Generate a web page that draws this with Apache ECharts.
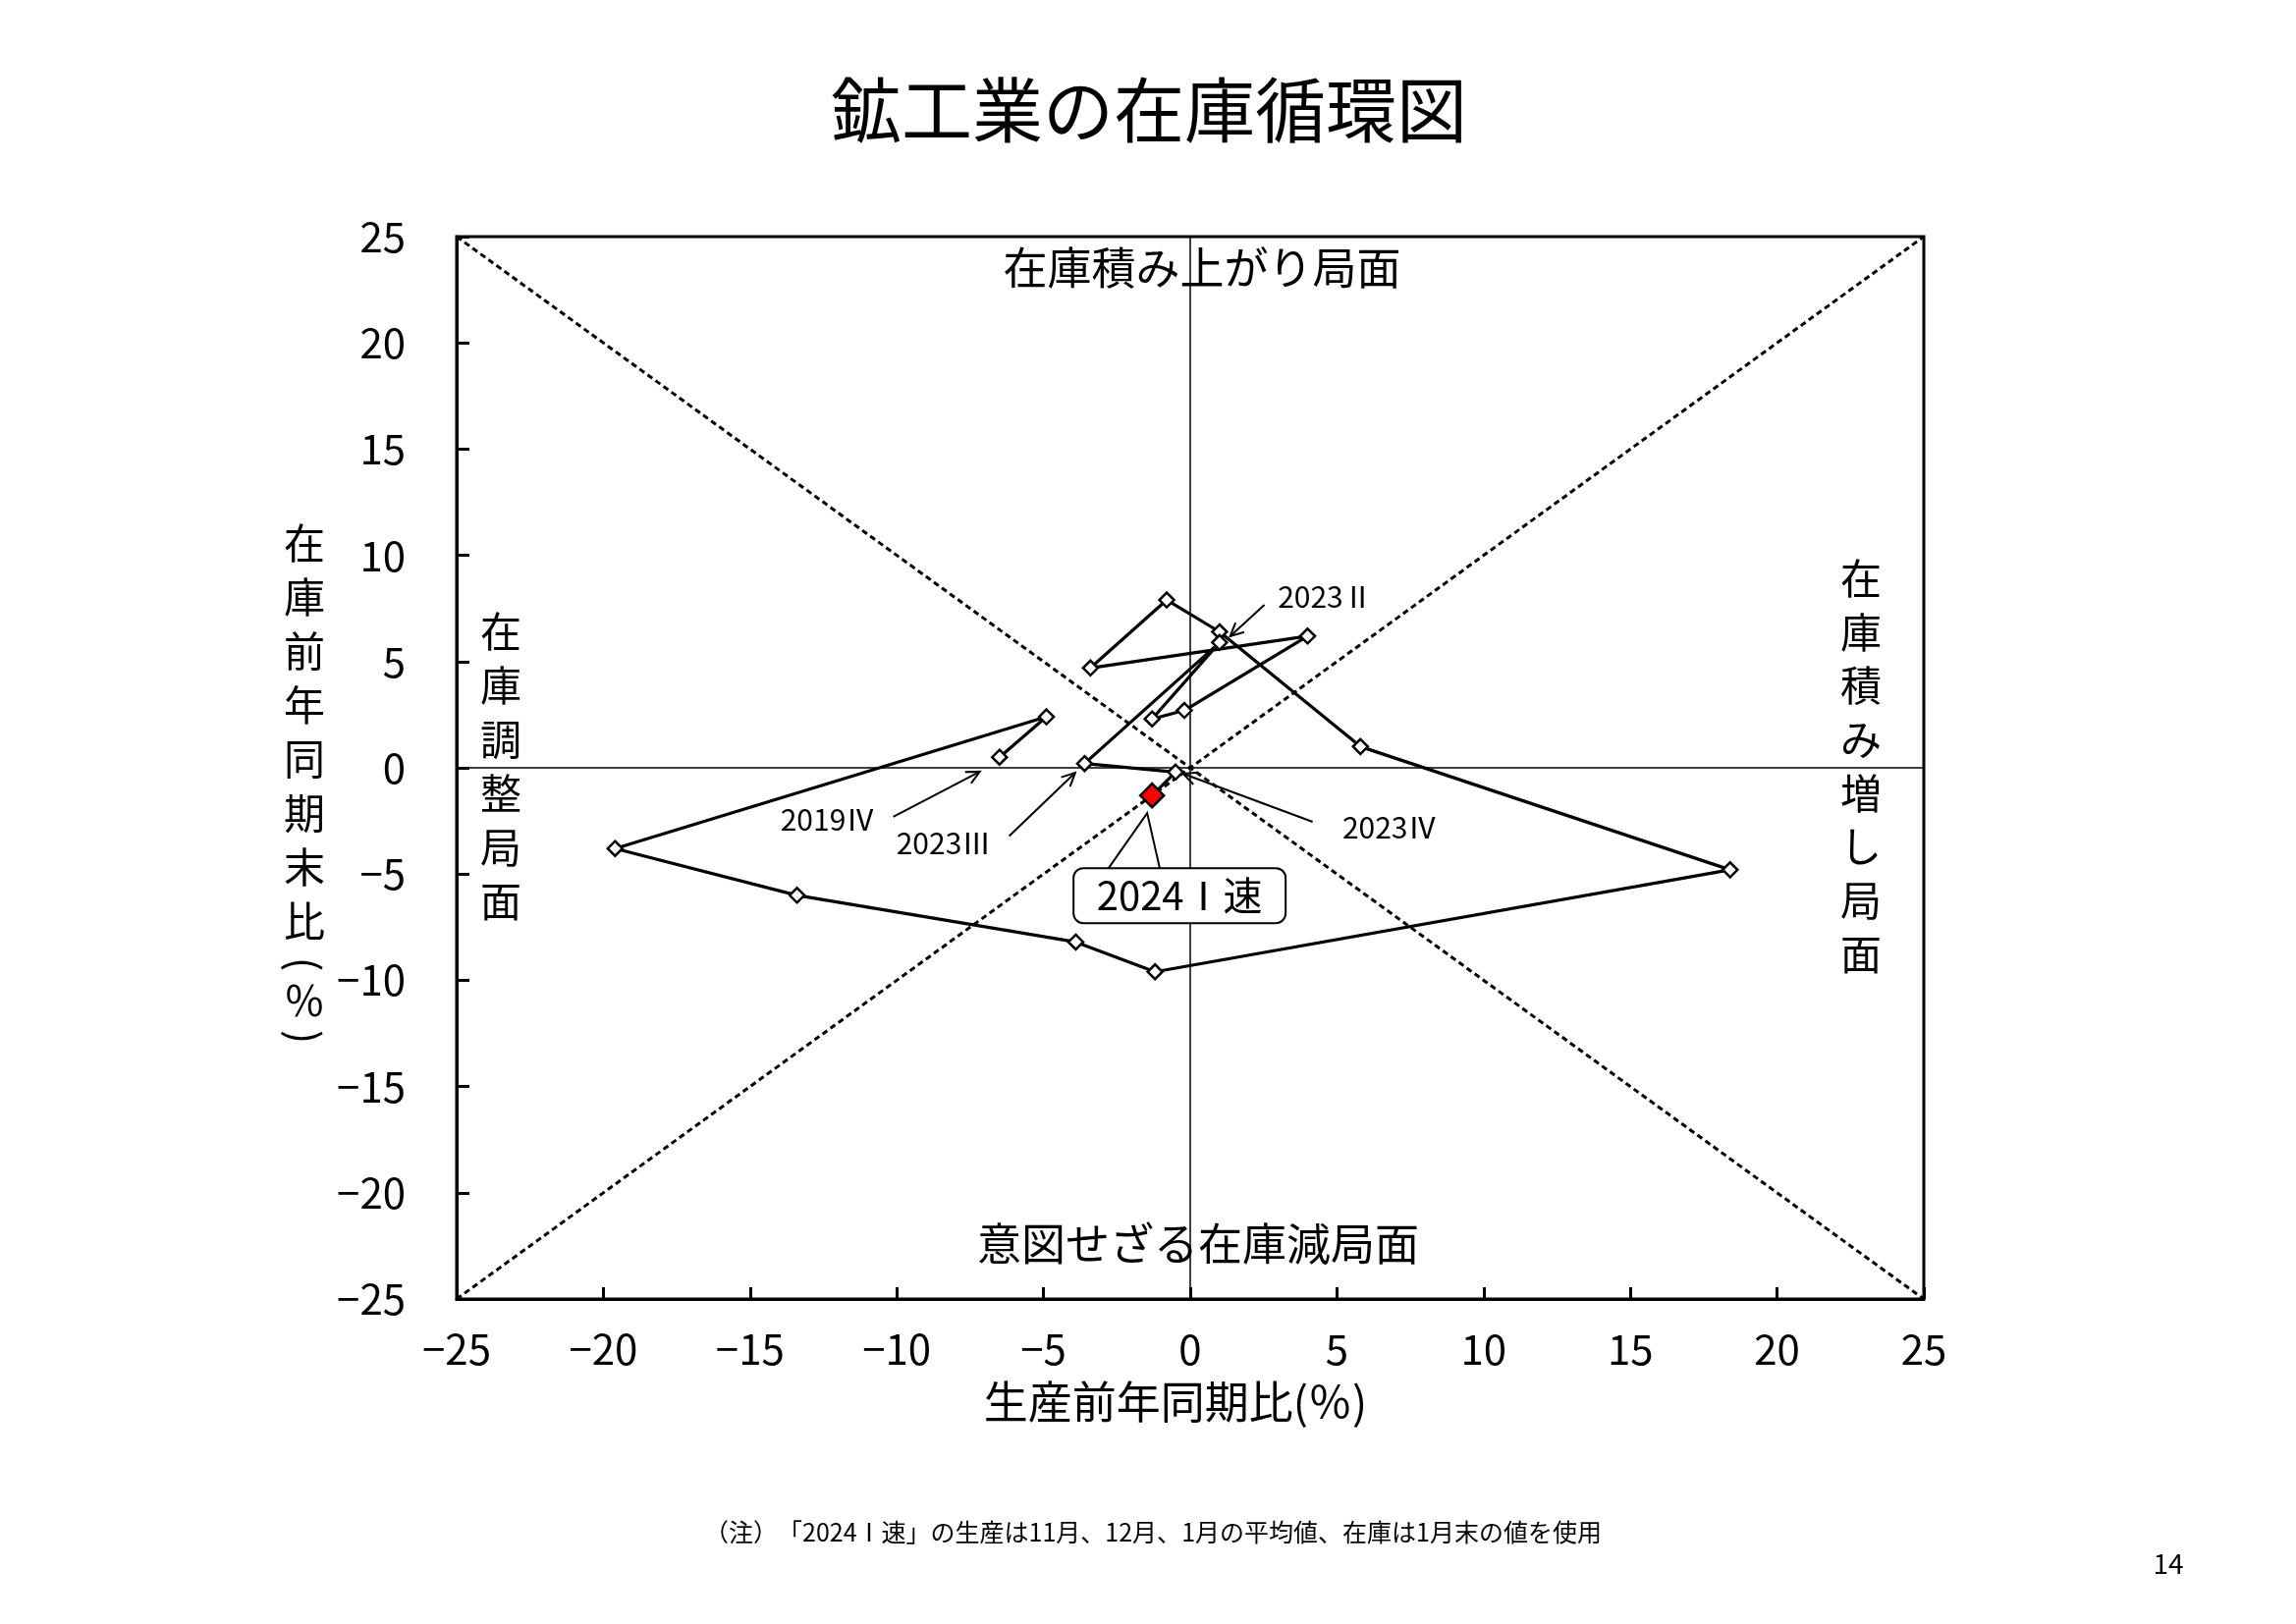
<!DOCTYPE html>
<html>
<head>
<meta charset="utf-8">
<script src="https://cdn.jsdelivr.net/npm/echarts@6/dist/echarts.min.js"></script>
<style>
html,body{margin:0;padding:0;background:#fff;}
#chart{width:2338px;height:1654px;}
</style>
</head>
<body>
<div id="chart"></div>
<script>
// ---- data ----
var quarters = ['2019Ⅳ','2020Ⅰ','2020Ⅱ','2020Ⅲ','2020Ⅳ','2021Ⅰ','2021Ⅱ','2021Ⅲ','2021Ⅳ',
                '2022Ⅰ','2022Ⅱ','2022Ⅲ','2022Ⅳ','2023Ⅰ','2023Ⅱ','2023Ⅲ','2023Ⅳ','2024Ⅰ速'];
var production = [-6.5, -4.9, -19.6, -13.4, -3.9, -1.2, 18.4, 5.8, 1.0,
                  -0.8, -3.4, 4.0, -0.2, -1.3, 1.0, -3.6, -0.5, -1.3];
var inventory  = [0.5, 2.4, -3.8, -6.0, -8.2, -9.6, -4.8, 1.0, 6.4,
                  7.9, 4.7, 6.2, 2.7, 2.3, 5.9, 0.2, -0.2, -1.3];
var axisTicks = [-25, -20, -15, -10, -5, 0, 5, 10, 15, 20, 25];

// annotation labels (data coordinates): label text, label pos, arrow start, arrow tip
var labelNames = ['2019Ⅳ', '2023Ⅲ', '2023Ⅱ', '2023Ⅳ'];
var labelPos   = [[-12.35, -2.45], [-8.4, -3.56], [4.6, 8.04], [6.8, -2.82]];
var arrowFrom  = [[-10.12, -2.31], [-6.17, -3.21], [2.53, 7.67], [4.17, -2.54]];
var arrowTo    = [[-7.17, -0.18], [-3.92, -0.23], [1.36, 6.19], [-0.24, -0.28]];

var FONT = '"Noto Sans CJK JP", "Noto Sans", sans-serif';
var chart = echarts.init(document.getElementById('chart'), null, {renderer: 'canvas'});

var pts = production.map(function (x, i) {
  var item = {name: quarters[i], value: [x, inventory[i]]};
  if (i === production.length - 1) {
    item.symbolSize = 24;
    item.itemStyle = {color: '#ff0000', borderColor: '#000', borderWidth: 2.5};
  }
  return item;
});
var mn = axisTicks[0], mx = axisTicks[axisTicks.length - 1];

function minus(v) { return String(v).replace('-', '−'); }

var option = {
  backgroundColor: '#fff',
  animation: false,
  grid: {left: 465, top: 241, width: 1494, height: 1082, show: true,
         borderColor: '#000', borderWidth: 3, backgroundColor: 'transparent',
         outerBoundsMode: 'none', containLabel: false},
  xAxis: {type: 'value', min: mn, max: mx, interval: 5,
    axisLine: {show: true, onZero: false, lineStyle: {color: '#000', width: 3}},
    axisTick: {show: true, inside: true, length: 12, lineStyle: {color: '#000', width: 3}},
    axisLabel: {color: '#000', fontSize: 42, fontFamily: FONT, margin: 30, formatter: minus},
    splitLine: {show: false}},
  yAxis: {type: 'value', min: mn, max: mx, interval: 5,
    axisLine: {show: true, onZero: false, lineStyle: {color: '#000', width: 3}},
    axisTick: {show: true, inside: true, length: 13, lineStyle: {color: '#000', width: 3}},
    axisLabel: {color: '#000', fontSize: 42, fontFamily: FONT, margin: 52, formatter: minus},
    splitLine: {show: false}},
  series: [
    {type: 'line', data: [[mn, mx], [mx, mn]], symbol: 'none', silent: true, z: 1,
     lineStyle: {color: '#000', width: 3, type: [6, 4]},
     markLine: {silent: true, symbol: 'none', label: {show: false},
       lineStyle: {color: '#000', width: 1.5, type: 'solid'},
       data: [{xAxis: 0}, {yAxis: 0}]}},
    {type: 'line', data: [[mn, mn], [mx, mx]], symbol: 'none', silent: true, z: 1,
     lineStyle: {color: '#000', width: 3, type: [6, 4]}},
    {type: 'line', data: pts, symbol: 'diamond', symbolSize: 15, showAllSymbol: true, z: 5,
     lineStyle: {color: '#000', width: 3.2},
     itemStyle: {color: '#fff', borderColor: '#000', borderWidth: 2.5}}
  ]
};
chart.setOption(option);

function px(p) { return chart.convertToPixel({gridIndex: 0}, p); }
function txt(text, x, y, size, extra) {
  var s = {text: text, x: x, y: y, font: size + 'px ' + FONT, fill: '#000',
           textAlign: 'center', textVerticalAlign: 'middle', align: 'center', verticalAlign: 'middle'};
  if (extra) for (var k in extra) s[k] = extra[k];
  return {type: 'text', silent: true, z: 100, style: s};
}
function rtxt(text, x, y, size, rot) {
  var el = txt(text, 0, 0, size);
  el.x = x; el.y = y; el.rotation = rot;
  return el;
}
function vtext(chars, x, y0, step, size) {
  var out = [];
  for (var i = 0; i < chars.length; i++) out.push(txt(chars[i], x, y0 + i * step, size));
  return out;
}
function arrow(a, b) {
  var dx = b[0] - a[0], dy = b[1] - a[1], L = Math.sqrt(dx * dx + dy * dy);
  var ux = dx / L, uy = dy / L, h = 15, w = 0.45;
  var p1 = [b[0] - h * (ux * Math.cos(w) - uy * Math.sin(w)), b[1] - h * (uy * Math.cos(w) + ux * Math.sin(w))];
  var p2 = [b[0] - h * (ux * Math.cos(-w) - uy * Math.sin(-w)), b[1] - h * (uy * Math.cos(-w) + ux * Math.sin(-w))];
  return [
    {type: 'polyline', silent: true, z: 90, shape: {points: [a, b]}, style: {stroke: '#000', lineWidth: 2, fill: null}},
    {type: 'polyline', silent: true, z: 90, shape: {points: [p1, b, p2]}, style: {stroke: '#000', lineWidth: 2, fill: null}}
  ];
}

var g = [];
// title
g.push(txt('鉱工業の在庫循環図', 1170, 112, 72));
// axis names
g = g.concat(vtext(['在','庫','前','年','同','期','末','比'], 310, 553, 55, 42));
g.push(rtxt('(', 310, 982, 42, -Math.PI / 2));
g.push(txt('％', 310, 1019, 42));
g.push(rtxt(')', 310, 1056, 42, -Math.PI / 2));
g.push(txt('生産前年同期比(％)', 1197, 1428, 45));
// quadrant labels
g.push(txt('在庫積み上がり局面', 1224, 273, 45));
g.push(txt('意図せざる在庫減局面', 1220, 1267, 45));
g = g.concat(vtext(['在','庫','調','整','局','面'], 510, 643, 55, 42));
g = g.concat(vtext(['在','庫','積','み','増','し','局','面'], 1895, 589, 54.7, 42));
// point labels with arrows
for (var i = 0; i < labelNames.length; i++) {
  var lp = px(labelPos[i]);
  g.push(txt(labelNames[i], lp[0], lp[1], 30));
  g = g.concat(arrow(px(arrowFrom[i]), px(arrowTo[i])));
}
// callout for latest point
var last = px([production[production.length - 1], inventory[inventory.length - 1]]);
g.push({type: 'polyline', silent: true, z: 90,
  shape: {points: [[last[0] - 45, last[1] + 75], [last[0] - 5, last[1] + 18], [last[0] + 8, last[1] + 75]]},
  style: {stroke: '#000', lineWidth: 2, fill: null}});
g.push({type: 'rect', silent: true, z: 95,
  shape: {x: last[0] - 80, y: last[1] + 74, width: 216, height: 56, r: 10},
  style: {fill: '#fff', stroke: '#000', lineWidth: 2}});
g.push(txt('2024Ⅰ速', last[0] + 28, last[1] + 102, 40));
// footnote and page number
g.push(txt('（注）　「2024Ⅰ速」の生産は11月、12月、1月の平均値、在庫は1月末の値を使用', 1174, 1560, 25));
g.push(txt('14', 2208, 1592, 28));

chart.setOption({graphic: g});
</script>
</body>
</html>
